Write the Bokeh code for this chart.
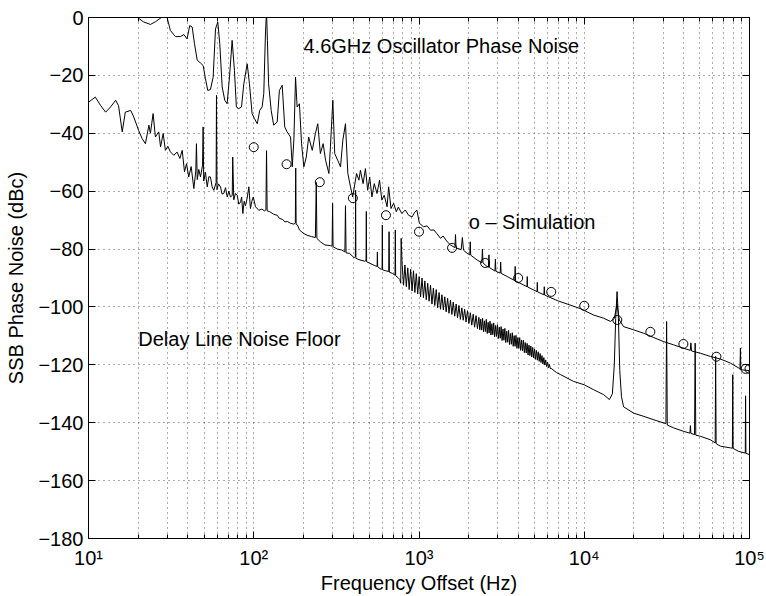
from bokeh.plotting import figure
from bokeh.models import Range1d, LogAxis, LinearAxis, FixedTicker, Label
from bokeh.embed import file_html
from bokeh.resources import INLINE

# ---------------- data ----------------
x_major = [10, 100, 1000, 10000, 100000]
x_minor = [20, 30, 40, 50, 60, 70, 80, 90,
           200, 300, 400, 500, 600, 700, 800, 900,
           2000, 3000, 4000, 5000, 6000, 7000, 8000, 9000,
           20000, 30000, 40000, 50000, 60000, 70000, 80000, 90000]
x_tick_labels = ["10\u00b9", "10\u00b2", "10\u00b3", "10\u2074", "10\u2075"]
y_major = [-180, -160, -140, -120, -100, -80, -60, -40, -20, 0]
y_tick_labels = ["\u2212180", "\u2212160", "\u2212140", "\u2212120", "\u2212100",
                 "\u221280", "\u221260", "\u221240", "\u221220", "0"]

# 4.6 GHz oscillator phase noise (upper trace)
osc_f = [10, 15, 18, 19.8, 21.5, 23.7, 25.5, 28.4, 29.2, 29.9,
         31.3, 33.6, 36, 37.8, 39.5, 41, 42.4, 43.8, 45.5, 47.6,
         49.4, 51, 52.7, 54.7, 56.8, 58.7, 60.6, 62.3, 64.4, 66.8,
         69, 71.3, 74, 76.4, 78.5, 81, 84.3, 87.1, 91.3, 94.2,
         97.7, 101, 105, 108.7, 112.4, 115, 117.8, 119.5, 121, 123,
         127.5, 132, 138.6, 143, 148.6, 154, 159, 167, 171, 175,
         179, 183, 189, 194.7, 201, 208, 215, 226, 236, 244,
         253, 263, 272, 285, 291, 301, 309, 322, 335, 346,
         359, 371, 385, 397, 419, 433, 442, 459, 474, 489,
         503, 519, 536, 557, 577, 596, 616, 641, 655, 677,
         702, 729, 750, 787, 826, 865, 908, 937, 970, 1006,
         1066, 1120, 1175, 1230, 1280, 1349, 1400, 1482, 1552, 1650,
         1663, 1676, 1800, 1830, 1860, 1958, 2030, 2042, 2055, 2250,
         2400, 2420, 2440, 2587, 2630, 2650, 2670, 2880, 2900, 2920,
         3100, 3120, 3140, 3418, 3800, 3820, 3840, 3929, 4500, 4520,
         4540, 5180, 5200, 5220, 5700, 5730, 5760, 6861, 7888, 9492,
         11400, 13100, 14400, 15200, 15800, 16300, 17300, 19900, 22900, 26400,
         30300, 34800, 40000, 43800, 44200, 44600, 50500, 58000, 66700, 76700,
         86100, 87600, 88100, 88600, 100000]
osc_db = [8, 6, 4, 0, -1.5, -2.4, -1.4, 0.5, 2, 0,
          -4.5, -6.6, -6.6, -5.9, -7.4, -2.8, -3.3, -9.1, -14.8, -15.7,
          -16.6, -21.1, -25.2, -24.9, -20.6, -3.9, -1.6, -9.1, -24, -28.6,
          -29.8, -20.6, -7.9, -18.3, -30.9, -31.5, -30.9, -22.9, -16, -22.9,
          -33.2, -34.9, -36.7, -32.1, -30.9, -26.3, -5, 2, -8, -22.9,
          -32.1, -37.2, -36.1, -25.2, -23.4, -37.8, -39.5, -41.3, -51.6, -42,
          -20.6, -30.9, -29.8, -43.6, -51.6, -48.2, -41.3, -45.9, -40.1, -36.7,
          -47, -43.6, -49.3, -53.9, -44.7, -28.6, -47, -49.3, -51.6, -42.4,
          -36.7, -53.9, -58.5, -62, -53.9, -56.2, -52.8, -57.4, -52.2, -59.7,
          -55.1, -62, -57.4, -60.8, -56.2, -63.1, -61.4, -65.4, -58.5, -66,
          -64.2, -67.1, -65.5, -67.7, -66.5, -68.3, -68.9, -67.5, -66.5, -71.1,
          -72.3, -72, -73.5, -73.4, -74.6, -76.3, -75.5, -77.5, -78.6, -79.5,
          -75, -79.6, -80.2, -76, -80.4, -81.5, -82, -77.5, -82.1, -83.8,
          -84.7, -80, -84.8, -86.1, -86.3, -82, -86.4, -87.6, -83.5, -87.7,
          -88.3, -84.5, -88.4, -89.5, -90.9, -86, -91, -91.3, -93, -89.5,
          -93.1, -94.7, -91.5, -94.8, -95.8, -93, -95.9, -97.8, -99, -100.6,
          -102.8, -103.9, -105, -104, -99, -104.5, -106.8, -107.9, -109.1, -110.6,
          -112, -113.1, -114.3, -115, -112.4, -115.2, -116, -117.1, -118, -119.4,
          -121.1, -121.5, -114.2, -121.7, -122]

# delay line noise floor (lower trace)
floor_f = [10.04, 11.0, 11.8, 12.7, 13.6, 14.6, 15.2, 16.0, 16.7, 18.0,
           18.8, 20.1, 21.1, 22.1, 23.2, 23.7, 24.6, 25.4, 26.6, 27.3,
           28.3, 29.2, 30.2, 31.3, 32.8, 34.4, 35.7, 36.9, 38.1, 39.2,
           40.4, 41.8, 43.4, 44.6, 45.0, 45.5, 46.5, 47.6, 49.0, 49.4,
           49.8, 51.0, 52.3, 53.5, 54.7, 56.0, 57.3, 59.2, 59.5, 59.9,
           61.2, 62.9, 64.3, 65.9, 67.5, 69.1, 70.7, 72.3, 74.1, 74.6,
           75.7, 77.5, 79.4, 81.2, 83.2, 84.5, 85.9, 87.5, 89.1, 91.2,
           93.4, 95.5, 97.4, 99.3, 102.5, 107.4, 112, 116, 118.5, 119.5,
           120.5, 125, 132, 138.6, 143, 150, 154, 160, 167, 175,
           178.5, 179.5, 180.5, 184, 189, 200, 210, 224, 236, 239,
           241, 253, 270, 290, 298, 300, 302, 320, 340, 356,
           359, 362, 380, 405, 412, 413.5, 415, 440, 470, 478,
           480, 482, 500, 520, 540, 558, 560, 562, 590, 598,
           600, 602, 630, 656, 659, 662, 690, 716, 719, 722,
           745, 765, 775, 780,
           790, 806, 822, 838, 855, 872, 890, 908, 926, 944,
           963, 982, 1002, 1022, 1043, 1064, 1085, 1107, 1129, 1151,
           1174, 1198, 1222, 1246, 1271, 1297, 1323, 1349, 1376, 1404,
           1432, 1460, 1490, 1519, 1550, 1581, 1612, 1645, 1678, 1711,
           1745, 1780, 1816, 1852, 1889, 1927, 1966, 2005, 2045, 2086,
           2128, 2170, 2214, 2258,
           2303, 2333, 2363, 2394, 2425, 2457, 2489, 2521, 2554, 2587,
           2621, 2655, 2690, 2725, 2760, 2796, 2832, 2869, 2907, 2944,
           2983, 3021, 3061, 3101, 3141, 3182, 3223, 3265, 3308, 3351,
           3395, 3439, 3484, 3529, 3575, 3622, 3669, 3716, 3765, 3814,
           3863, 3914, 3964, 4016, 4068, 4121, 4175, 4229, 4284, 4340,
           4396, 4454, 4512, 4570, 4630, 4690, 4751, 4813, 4876, 4939,
           5003, 5068, 5134, 5201, 5269, 5337, 5407, 5477, 5548, 5620,
           5694, 5768, 5843, 5919, 5996, 6074, 6153, 6233, 6300,
           6800, 7200, 8600, 10000, 11400, 13100, 14200, 14800, 15200, 15500,
           15800, 16100, 16400, 16800, 17300, 19900, 22900, 26400, 30300, 31200,
           31500, 31800, 34800, 40000, 43600, 43900, 44200, 46500, 46900, 47300,
           50500, 58000, 62000, 62400, 62800, 66700, 76700, 78800, 79200, 79600,
           86000, 94300, 94700, 95100, 100000]
floor_db = [-29.2, -27.5, -30.3, -32.7, -30.9, -28.6, -30.5, -39.5, -32.7, -32.1,
            -34.4, -39, -41.8, -43.6, -37.2, -40, -33.2, -41.3, -39.5, -44.7,
            -40.1, -45.9, -44.5, -46.4, -47.6, -46.5, -48.7, -45.9, -53.3, -50.5,
            -55.1, -51.5, -59.1, -53, -43.6, -56, -52.5, -55.1, -51, -37.8,
            -56.5, -53.5, -58.5, -55, -55.1, -58.5, -59.7, -57, -26.9, -59.5,
            -57.5, -58.5, -61, -60.8, -58.8, -62, -60, -62, -61.5, -48.2,
            -63, -60.8, -61.4, -64.5, -63.7, -62, -67.7, -63.5, -65, -62.5,
            -58.5, -66, -63.5, -62, -65.4, -66.6, -66.2, -66.8, -66.5, -46,
            -66.8, -67.1, -68, -68.3, -69.4, -69.8, -70.6, -70.5, -71.1, -71.4,
            -71, -52, -71.5, -71.7, -73.4, -74.6, -75.2, -75.7, -76, -57,
            -76.3, -77.5, -78.6, -78.8, -79, -64.2, -79.2, -80, -80.3, -81,
            -65, -81.3, -81.5, -83, -82.6, -59.7, -83.2, -83.8, -84.2, -84,
            -67, -84.4, -84.8, -85.3, -85.7, -86, -81, -86.1, -87, -86.8,
            -71.7, -87.2, -87.5, -87.8, -74, -88, -88.4, -89, -73.4, -89.2,
            -89.8, -90.5, -91.8, -76.3,
            -85, -92.5, -85.5, -93, -86.5, -94, -87, -94.5, -87.5, -95,
            -88.5, -95.5, -89.5, -96.5, -90, -96.8, -91, -97.5, -91.8, -98,
            -92.5, -99, -93.5, -99.5, -94, -100.3, -95, -100.8, -95.8, -101,
            -96.5, -101.7, -97, -102.2, -97.6, -102.6, -98.3, -103.2, -99, -103.8,
            -99.5, -104.3, -100.3, -104.6, -100.8, -105.2, -101.3, -105.7, -102, -106.3,
            -102.5, -107, -103, -107.5,
            -103.6, -107.9, -104.2, -108.0, -103.9, -108.6, -104.8, -108.5, -104.3, -109.2,
            -105.3, -109.0, -104.9, -109.7, -105.8, -109.6, -105.5, -110.3, -106.4, -110.2,
            -106.1, -110.9, -107.0, -110.8, -106.8, -111.6, -107.6, -111.5, -107.4, -112.3,
            -108.4, -112.2, -108.1, -113.0, -109.2, -112.9, -108.9, -113.6, -109.9, -113.6,
            -109.8, -114.3, -110.6, -114.3, -110.6, -115.0, -111.4, -115.1, -111.5, -115.8,
            -112.3, -115.9, -112.6, -116.6, -113.2, -116.8, -113.5, -117.3, -114.0, -117.6,
            -114.5, -118.1, -115.0, -118.4, -115.5, -118.8, -116.1, -119.2, -116.8, -119.7,
            -117.5, -120.1, -118.3, -120.6, -119.0, -121.0, -119.9, -121.3, -121.2,
            -122.7, -123.4, -125.7, -126.9, -128.6, -130.3, -132, -130, -120, -104,
            -94.7, -104, -122, -131, -134.5, -136.7, -137.8, -139, -140.1, -140.3,
            -105, -140.8, -141.8, -143, -143.6, -141, -143.7, -144.1, -112.5, -144.3,
            -144.7, -145.9, -147, -117.1, -147.2, -148.1, -148.7, -148.8, -123.4, -148.9,
            -149.9, -150.5, -130.7, -150.6, -151]

# simulation points (circles)
sim_f = [100, 158, 251, 398, 631, 1000, 1585, 2512, 3981, 6310,
         10000, 15849, 25119, 39811, 63096, 94600, 100000]
sim_db = [-44.8, -50.7, -56.9, -62.4, -68.3, -74, -79.6, -84.8, -90, -94.8,
          -99.6, -104.5, -108.6, -112.8, -117.2, -121.4, -121.4]

FONT = "Liberation Sans"
FS = "20px"

p = figure(width=766, height=596, x_axis_type="log",
           x_range=Range1d(10, 100000), y_range=Range1d(-180, 0),
           output_backend="svg", toolbar_location=None,
           min_border_left=88, min_border_right=17,
           min_border_top=17, min_border_bottom=57)
p.background_fill_color = "white"
p.border_fill_color = "white"
p.outline_line_color = "black"
p.outline_line_width = 1

xt = FixedTicker(ticks=x_major, minor_ticks=x_minor)
yt = FixedTicker(ticks=y_major, minor_ticks=[])

xax = p.xaxis[0]
yax = p.yaxis[0]
xax.ticker = xt
xax.major_label_overrides = {k: v for k, v in zip(x_major, x_tick_labels)}
xax.axis_label = "Frequency Offset (Hz)"
xax.major_label_standoff = 8
xax.axis_label_standoff = 0
yax.ticker = yt
yax.major_label_overrides = {k: v for k, v in zip(y_major, y_tick_labels)}
yax.axis_label = "SSB Phase Noise (dBc)"
yax.major_label_standoff = 5
yax.axis_label_standoff = 8

top_ax = LogAxis(ticker=xt, major_label_text_font_size="1px",
                 major_label_text_color=None, major_label_standoff=0)
right_ax = LinearAxis(ticker=yt, major_label_text_font_size="1px",
                      major_label_text_color=None, major_label_standoff=0)
p.add_layout(top_ax, "above")
p.add_layout(right_ax, "right")

for ax in [xax, yax, top_ax, right_ax]:
    ax.axis_line_color = "black"
    ax.axis_line_width = 1
    ax.major_tick_line_color = "black"
    ax.minor_tick_line_color = "black"
    ax.major_tick_in = 7
    ax.major_tick_out = 0
    ax.minor_tick_in = 4
    ax.minor_tick_out = 0
for ax in [xax, yax]:
    ax.major_label_text_font = FONT
    ax.major_label_text_font_size = FS
    ax.major_label_text_color = "black"
    ax.axis_label_text_font = FONT
    ax.axis_label_text_font_style = "normal"
    ax.axis_label_text_font_size = FS
    ax.axis_label_text_color = "black"

p.xgrid.ticker = xt
p.ygrid.ticker = yt
for g in [p.xgrid, p.ygrid]:
    g.grid_line_color = "black"
    g.grid_line_dash = "1 4"
    g.grid_line_alpha = 0.65
p.xgrid.minor_grid_line_color = "black"
p.xgrid.minor_grid_line_dash = "1 4"
p.xgrid.minor_grid_line_alpha = 0.65

p.line(osc_f, osc_db, line_color="black", line_width=1)
p.line(floor_f, floor_db, line_color="black", line_width=1)
p.scatter(sim_f, sim_db, marker="circle", size=9, fill_color=None,
          line_color="black", line_width=1)

for (lx, ly, txt) in [(200, -10, "4.6GHz Oscillator Phase Noise"),
                      (2000, -70.5, "o \u2013 Simulation"),
                      (20, -111, "Delay Line Noise Floor")]:
    p.add_layout(Label(x=lx, y=ly, text=txt, text_font=FONT,
                       text_font_size=FS, text_color="black",
                       text_baseline="middle", text_align="left"))

open("out.html", "w").write(file_html(p, INLINE))
